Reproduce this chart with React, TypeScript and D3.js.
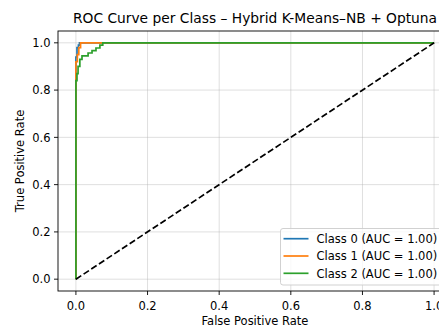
import React from "react";
import * as d3 from "d3";

type Pt = [number, number];

// ROC curves (fpr, tpr)
const class0Roc: Pt[] = [
  [0, 0], [0, 0.94], [0.003, 0.94], [0.003, 0.98], [0.007, 0.98],
  [0.007, 0.99], [0.01, 0.99], [0.01, 1], [1, 1],
];
const class1Roc: Pt[] = [
  [0, 0], [0, 0.92], [0.004, 0.92], [0.004, 0.95], [0.008, 0.95],
  [0.008, 0.98], [0.013, 0.98], [0.013, 1], [1, 1],
];
const class2Roc: Pt[] = [
  [0, 0], [0, 0.84], [0.003, 0.84], [0.003, 0.87], [0.006, 0.87],
  [0.006, 0.9], [0.011, 0.9], [0.011, 0.93], [0.017, 0.93], [0.017, 0.945],
  [0.034, 0.945], [0.034, 0.957], [0.045, 0.957], [0.045, 0.967],
  [0.056, 0.967], [0.056, 0.978], [0.067, 0.978], [0.067, 0.99],
  [0.075, 0.99], [0.075, 1], [1, 1],
];
const seriesNames = ["Class 0 (AUC = 1.00)", "Class 1 (AUC = 1.00)", "Class 2 (AUC = 1.00)"];
const seriesColors = ["#1f77b4", "#ff7f0e", "#2ca02c"];
const tickValues = [0, 0.2, 0.4, 0.6, 0.8, 1.0];
const diagonal: Pt[] = [[0, 0], [1, 1]];

const W = 439;
const H = 326;
const font = "DejaVu Sans, sans-serif";
const fs = 11.5;

export default function App() {
  const x = d3.scaleLinear().domain([-0.05, 1.05]).range([58, 452]);
  const y = d3.scaleLinear().domain([-0.05, 1.05]).range([291, 31]);
  const line = d3
    .line<Pt>()
    .x((d) => x(d[0]))
    .y((d) => y(d[1]));

  const series = [class0Roc, class1Roc, class2Roc];
  const [left, right] = x.range();
  const top = y.range()[1];
  const bottom = y.range()[0];

  return (
    <svg
      width={W}
      height={H}
      style={{ position: "absolute", left: 0, top: 0, background: "#fff" }}
      fontFamily={font}
    >
      <rect x={0} y={0} width={W} height={H} fill="#fff" />
      {/* grid */}
      {tickValues.map((t) => (
        <g key={"g" + t}>
          <line x1={x(t)} x2={x(t)} y1={top} y2={bottom} stroke="#b0b0b0" strokeOpacity={0.45} strokeWidth={0.9} />
          <line x1={left} x2={right} y1={y(t)} y2={y(t)} stroke="#b0b0b0" strokeOpacity={0.45} strokeWidth={0.9} />
        </g>
      ))}
      {/* curves */}
      {series.map((s, i) => (
        <path key={i} d={line(s) || ""} fill="none" stroke={seriesColors[i]} strokeWidth={1.7} />
      ))}
      <path d={line(diagonal) || ""} fill="none" stroke="#000" strokeWidth={1.7} strokeDasharray="6.4,2.8" />
      {/* spines */}
      <rect x={left} y={top} width={right - left} height={bottom - top} fill="none" stroke="#000" strokeWidth={0.9} />
      {/* x ticks */}
      {tickValues.map((t) => (
        <g key={"x" + t}>
          <line x1={x(t)} x2={x(t)} y1={bottom} y2={bottom + 4} stroke="#000" strokeWidth={0.9} />
          <text x={x(t)} y={bottom + 18.5} fontSize={fs} textAnchor="middle" fill="#000">
            {d3.format(".1f")(t)}
          </text>
        </g>
      ))}
      {/* y ticks */}
      {tickValues.map((t) => (
        <g key={"y" + t}>
          <line x1={left - 4} x2={left} y1={y(t)} y2={y(t)} stroke="#000" strokeWidth={0.9} />
          <text x={left - 7.5} y={y(t) + 4.2} fontSize={fs} textAnchor="end" fill="#000">
            {d3.format(".1f")(t)}
          </text>
        </g>
      ))}
      <text x={(left + right) / 2} y={324.5} fontSize={fs} textAnchor="middle" fill="#000">
        False Positive Rate
      </text>
      <text
        transform={`translate(${24},${(top + bottom) / 2}) rotate(-90)`}
        fontSize={fs}
        textAnchor="middle"
        fill="#000"
      >
        True Positive Rate
      </text>
      <text x={(left + right) / 2} y={22.5} fontSize={13.8} textAnchor="middle" fill="#000">
        ROC Curve per Class – Hybrid K-Means–NB + Optuna
      </text>
      {/* legend */}
      <g>
        <rect x={280.5} y={228.5} width={170} height={56.5} rx={2.5} fill="#fff" fillOpacity={0.8} stroke="#cccccc" strokeWidth={0.9} />
        {seriesNames.map((n, i) => (
          <g key={n} transform={`translate(0,${238.7 + i * 17.3})`}>
            <line x1={283.5} x2={308.5} y1={0} y2={0} stroke={seriesColors[i]} strokeWidth={1.7} />
            <text x={316.5} y={4.2} fontSize={fs} fill="#000">
              {n}
            </text>
          </g>
        ))}
      </g>
    </svg>
  );
}
